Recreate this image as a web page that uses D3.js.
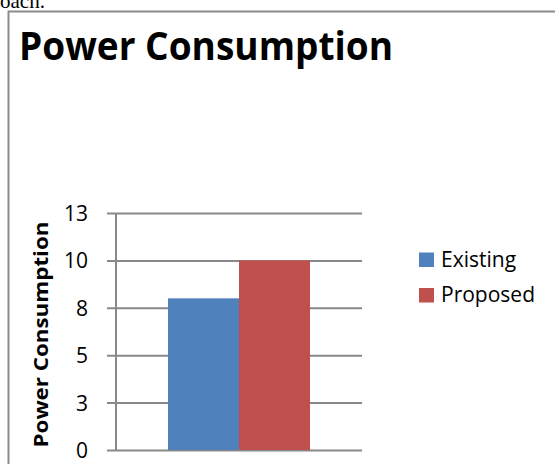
<!DOCTYPE html>
<html>
<head>
<meta charset="utf-8">
<script src="https://cdn.jsdelivr.net/npm/d3@7"></script>
<style>
  html, body { margin: 0; padding: 0; background: #fff; overflow: hidden; }
  svg { display: block; }
</style>
</head>
<body>
<script>
// Chart data
const categories = ["Power Consumption"];
const seriesNames = ["Existing", "Proposed"];
const seriesValues = [8, 10];
const seriesColors = ["#4F81BD", "#C0504D"];
const tickValues = [0, 2.5, 5, 7.5, 10, 12.5];
const tickLabels = ["0", "3", "5", "8", "10", "13"];

const W = 555, H = 464;
const svg = d3.select("body").append("svg").attr("width", W).attr("height", H);

// Tail of the preceding paragraph text
svg.append("text")
  .attr("x", 0).attr("y", 8)
  .attr("font-family", "'Liberation Serif', serif")
  .attr("font-size", 21)
  .attr("fill", "#000")
  .text("oach.");

// Chart frame
svg.append("path")
  .attr("d", `M8.5,${H + 2} V11.5 H${W + 2}`)
  .attr("fill", "none")
  .attr("stroke", "#8c8c8c")
  .attr("stroke-width", 2);

// Title
svg.append("text")
  .attr("x", 19).attr("y", 60)
  .attr("font-family", "'Open Sans', sans-serif")
  .attr("font-weight", 700)
  .attr("font-size", 40)
  .attr("fill", "#000")
  .attr("textLength", 374)
  .attr("lengthAdjust", "spacingAndGlyphs")
  .text("Power Consumption");

// Plot area
const plot = { left: 116, right: 362, top: 213, bottom: 450 };

const y = d3.scaleLinear().domain([0, 12.5]).range([plot.bottom, plot.top]);
const x0 = d3.scaleBand().domain(categories)
  .range([plot.left, plot.right])
  .paddingInner(0).paddingOuter(0.366);
const x1 = d3.scaleBand().domain(seriesNames).range([0, x0.bandwidth()]).padding(0);

// Gridlines with tick marks and labels via the axis generator
const yAxis = d3.axisLeft(y)
  .tickValues(tickValues)
  .tickFormat((d, i) => tickLabels[i])
  .tickSizeInner(-(plot.right - plot.left))
  .tickSizeOuter(0)
  .tickPadding(0);

const gAxis = svg.append("g").attr("transform", `translate(${plot.left},0)`).call(yAxis);
gAxis.select(".domain").remove();
gAxis.selectAll(".tick line")
  .attr("x1", -9)
  .attr("stroke", "#898989")
  .attr("stroke-width", 2);
gAxis.selectAll(".tick text")
  .attr("x", -28)
  .attr("dy", "0.36em")
  .attr("font-family", "'Open Sans', sans-serif")
  .attr("font-size", 21)
  .attr("fill", "#000");

// Bars
const groups = svg.append("g").selectAll("g")
  .data(categories)
  .join("g")
  .attr("transform", d => `translate(${x0(d)},0)`);

groups.selectAll("rect")
  .data(() => seriesNames.map((s, i) => ({ s, v: seriesValues[i], c: seriesColors[i] })))
  .join("rect")
  .attr("x", d => x1(d.s))
  .attr("y", d => y(d.v))
  .attr("width", x1.bandwidth())
  .attr("height", d => y(0) - y(d.v))
  .attr("fill", d => d.c);

// Vertical axis line
svg.append("line")
  .attr("x1", plot.left).attr("x2", plot.left)
  .attr("y1", y(12.5)).attr("y2", y(0))
  .attr("stroke", "#898989")
  .attr("stroke-width", 2);

// Axis title
svg.append("text")
  .attr("transform", `translate(48,${(plot.top + plot.bottom) / 2 + 3}) rotate(-90)`)
  .attr("text-anchor", "middle")
  .attr("font-family", "'Open Sans', sans-serif")
  .attr("font-weight", 700)
  .attr("font-size", 19.5)
  .attr("fill", "#000")
  .attr("textLength", 226)
  .attr("lengthAdjust", "spacingAndGlyphs")
  .text("Power Consumption");

// Legend
const legend = svg.append("g").selectAll("g")
  .data(seriesNames)
  .join("g")
  .attr("transform", (d, i) => `translate(419,${252.5 + i * 35.5})`);
legend.append("rect")
  .attr("width", 15).attr("height", 14.5)
  .attr("fill", (d, i) => seriesColors[i]);
legend.append("text")
  .attr("x", 22).attr("y", 14)
  .attr("font-family", "'Open Sans', sans-serif")
  .attr("font-size", 21)
  .attr("fill", "#000")
  .text(d => d);
</script>
</body>
</html>
